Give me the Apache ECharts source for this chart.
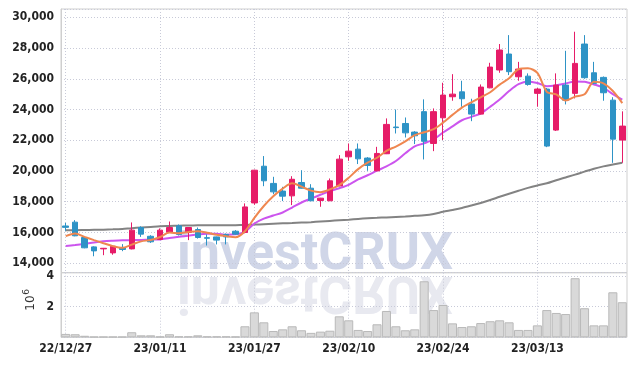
<!DOCTYPE html>
<html>
<head>
<meta charset="utf-8">
<script src="https://cdn.jsdelivr.net/npm/echarts@6/dist/echarts.min.js"></script>
<style>
html,body{margin:0;padding:0;background:#fff;}
#c{width:635px;height:366px;}
</style>
</head>
<body>
<div id="c"></div>
<script>
const dates = [
  '22/12/27','22/12/28','22/12/29','23/01/02','23/01/03','23/01/04','23/01/05','23/01/06','23/01/09','23/01/10',
  '23/01/11','23/01/12','23/01/13','23/01/16','23/01/17','23/01/18','23/01/19','23/01/20','23/01/25','23/01/26',
  '23/01/27','23/01/30','23/01/31','23/02/01','23/02/02','23/02/03','23/02/06','23/02/07','23/02/08','23/02/09',
  '23/02/10','23/02/13','23/02/14','23/02/15','23/02/16','23/02/17','23/02/20','23/02/21','23/02/22','23/02/23',
  '23/02/24','23/02/27','23/02/28','23/03/02','23/03/03','23/03/06','23/03/07','23/03/08','23/03/09','23/03/10',
  '23/03/13','23/03/14','23/03/15','23/03/16','23/03/17','23/03/20','23/03/21','23/03/22','23/03/23','23/03/24'
];
const opens = [
  16420,16670,15670,15060,14930,14670,15020,14930,16320,15750,
  15540,16020,16430,16000,16190,15660,15710,15870,16080,16000,
  17920,20310,19190,18690,18380,19250,18880,18080,18060,19030,
  20920,21420,20840,20010,21120,22860,23090,22530,23860,21790,
  23460,24830,25150,24350,23700,25410,26570,27610,26130,26170,
  25050,25330,22660,25590,25050,28260,26390,26090,24610,22010
];
const closes = [
  16330,15780,15000,14800,14970,15100,14890,16150,15890,15390,
  16150,16320,15870,16320,15670,15620,15500,15710,15890,17660,
  20050,19360,18640,18360,19460,18880,18060,18230,19360,20770,
  21290,20790,20360,21140,23030,22820,22480,22290,21930,23860,
  24940,25000,24700,23700,25460,26760,27870,26460,26630,25630,
  25330,21620,25590,24610,27000,26070,25700,25090,22070,22920
];
const lows = [
  16100,15750,14970,14450,14520,14550,14780,14900,15710,15320,
  15520,16000,15800,15500,15600,15150,15220,15220,15850,15950,
  17800,19010,18490,18040,17780,18860,18040,17670,18040,19000,
  20660,20450,20010,19990,21100,22440,22180,21750,20750,21290,
  22010,24570,24180,23240,23680,25380,26390,26240,25870,25550,
  24180,21550,22600,24330,24720,26000,25650,24570,20530,20530
];
const highs = [
  16620,16800,15700,15100,14990,15130,15240,16650,16400,15820,
  16260,16710,16520,16350,16320,15870,15730,15930,16150,17890,
  20080,20970,19620,18970,19660,20050,19140,18250,19510,21030,
  21790,21790,20900,21570,23420,24000,23480,22590,24660,24070,
  25740,26300,25870,24700,25630,27040,28260,28840,27100,26350,
  25400,25400,26350,27820,29060,28840,27100,26150,24800,23880
];
const maShort = [
  15760,15930,15710,15500,15300,15110,15000,15210,15420,15510,
  15700,15990,15950,16030,16080,15980,15850,15760,15690,16080,
  16950,17720,18350,18850,19200,18980,18720,18620,18800,19080,
  19560,20120,20540,20860,21310,21590,21930,22330,22520,22720,
  23150,23650,24120,24470,24790,25120,25620,26030,26620,26680,
  26380,25150,24980,24580,24840,24990,25800,25700,25200,24420
];
const maMid = [
  15110,15180,15260,15350,15420,15460,15490,15500,15510,15530,
  15545,15640,15720,15790,15860,15910,15920,15850,15880,16040,
  16580,16900,17100,17300,17620,17950,18200,18450,18700,18880,
  19100,19450,19720,20020,20300,20650,21150,21600,21800,22050,
  22500,22900,23300,23520,23740,24180,24650,25200,25650,25830,
  25730,25520,25580,25690,25830,25800,25630,25420,25000,24650
];
const maLong = [
  16150,16150,16160,16170,16180,16200,16230,16280,16320,16360,
  16400,16420,16440,16450,16460,16470,16470,16470,16475,16490,
  16510,16540,16570,16590,16610,16640,16670,16710,16750,16790,
  16830,16880,16920,16950,16980,17010,17040,17080,17120,17200,
  17340,17460,17590,17750,17920,18110,18320,18520,18710,18900,
  19060,19200,19400,19580,19760,19960,20150,20300,20420,20530
];
const volumes = [
  220000,200000,100000,40000,40000,40000,40000,330000,130000,130000,
  50000,200000,60000,60000,130000,60000,60000,60000,50000,720000,
  1630000,980000,410000,520000,720000,460000,290000,370000,430000,1370000,
  1110000,480000,410000,850000,1720000,720000,460000,520000,3660000,1780000,
  2110000,910000,670000,720000,930000,1050000,1110000,980000,480000,480000,
  780000,1780000,1590000,1520000,3860000,1900000,780000,780000,2940000,2290000
];

const candleData = dates.map((d, i) => [opens[i], closes[i], lows[i], highs[i]]);

const chart = echarts.init(document.getElementById('c'), null, {renderer: 'canvas'});
const labelFont = {
  fontFamily: 'DejaVu Sans Condensed, DejaVu Sans',
  fontWeight: 'bold',
  fontSize: 12,
  color: '#222'
};
const splitStyle = {color: '#c8cad8', type: [1, 2], width: 1};

chart.setOption({
  animation: false,
  backgroundColor: '#fff',
  grid: [
    {left: 61, right: 8, top: 9, height: 263.7, show: true, borderColor: '#cfcfcf', borderWidth: 1, backgroundColor: 'transparent'},
    {left: 61, right: 8, top: 272.7, height: 64.6, show: true, borderColor: '#cfcfcf', borderWidth: 1, backgroundColor: 'transparent'}
  ],
  xAxis: [
    {
      type: 'category', data: dates, gridIndex: 0, boundaryGap: true,
      axisLine: {show: false}, axisTick: {show: false}, axisLabel: {show: false},
      splitLine: {show: true, interval: 9, alignWithLabel: true, lineStyle: splitStyle}
    },
    {
      type: 'category', data: dates, gridIndex: 1, boundaryGap: true,
      axisLine: {show: false}, axisTick: {show: false},
      axisLabel: Object.assign({interval: 9, margin: 6}, labelFont),
      splitLine: {show: true, interval: 9, alignWithLabel: true, lineStyle: splitStyle}
    }
  ],
  yAxis: [
    {
      type: 'value', gridIndex: 0, min: 13380, max: 30540, splitNumber: 8,
      axisLine: {show: true, lineStyle: {color: '#cfcfcf'}}, axisTick: {show: false},
      axisLabel: Object.assign({
        margin: 7,
        formatter: v => (v % 2000 === 0 ? v.toLocaleString('en-US') : '')
      }, labelFont),
      splitLine: {show: true, lineStyle: splitStyle}
    },
    {
      type: 'value', gridIndex: 1, min: 0, max: 4220000, interval: 2000000,
      axisLine: {show: true, lineStyle: {color: '#cfcfcf'}}, axisTick: {show: false},
      axisLabel: Object.assign({
        margin: 7,
        formatter: v => (v > 0 && v % 2000000 === 0 ? String(v / 1000000) : '')
      }, labelFont),
      splitLine: {show: true, lineStyle: splitStyle}
    }
  ],
  graphic: [
    {type: 'text', x: 177, y: 256, z: 0, silent: true,
     style: {text: 'investCRUX', font: 'bold 52px Roboto', fill: '#d0d6e8', verticalAlign: 'middle'}},
    {type: 'text', x: 177, y: 289.5, scaleY: -1, z: 0, silent: true,
     style: {text: 'investCRUX', font: 'bold 52px Roboto', fill: '#e8e9f0', verticalAlign: 'middle'}},
    {type: 'text', x: 31, y: 303, rotation: Math.PI / 2, z: 5, silent: true,
     style: {text: '10', font: '12px DejaVu Sans', fill: '#333', align: 'center', verticalAlign: 'middle'}},
    {type: 'text', x: 27, y: 292, rotation: Math.PI / 2, z: 5, silent: true,
     style: {text: '6', font: '9px DejaVu Sans', fill: '#333', align: 'center', verticalAlign: 'middle'}}
  ],
  series: [
    {
      type: 'line', xAxisIndex: 0, yAxisIndex: 0, data: maLong, showSymbol: false, smooth: 0.3,
      lineStyle: {color: '#838383', width: 2}, z: 3
    },
    {
      type: 'line', xAxisIndex: 0, yAxisIndex: 0, data: maMid, showSymbol: false, smooth: 0.3,
      lineStyle: {color: '#cc55ee', width: 2}, z: 3
    },
    {
      type: 'candlestick', xAxisIndex: 0, yAxisIndex: 0, data: candleData, barWidth: 6,
      itemStyle: {color: '#e61c68', color0: '#2e93c6', borderColor: '#e61c68', borderColor0: '#2e93c6', borderWidth: 1},
      z: 4
    },
    {
      type: 'line', xAxisIndex: 0, yAxisIndex: 0, data: maShort, showSymbol: false, smooth: 0.3,
      lineStyle: {color: '#ef8750', width: 2}, z: 5
    },
    {
      type: 'bar', xAxisIndex: 1, yAxisIndex: 1, data: volumes, barCategoryGap: '4%',
      itemStyle: {color: '#d9d9d9', borderColor: '#b9b9b9', borderWidth: 1}, z: 3
    }
  ]
});
</script>
</body>
</html>
